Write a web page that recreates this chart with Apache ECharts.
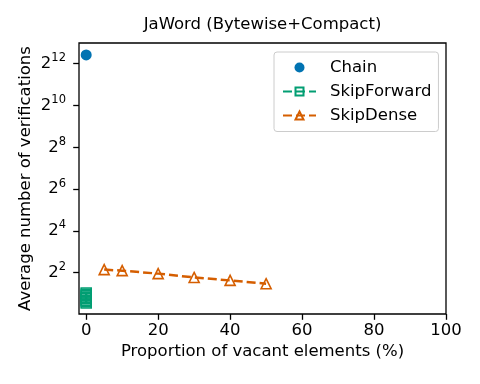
<!DOCTYPE html>
<html>
<head>
<meta charset="utf-8">
<script src="https://cdn.jsdelivr.net/npm/echarts@6/dist/echarts.min.js"></script>
<style>
  html, body { margin: 0; padding: 0; background: #fff; }
  #chart { width: 480px; height: 384px; }
</style>
</head>
<body>
<div id="chart"></div>
<script>
// data
const chainX = [0]
const chainY = [5470]
const skipForwardX = [0, 0, 0, 0, 0, 0, 0, 0]
const skipForwardY = [1.46, 1.52, 1.6, 1.68, 1.76, 1.85, 1.95, 2.04]
const skipDenseX = [5, 10, 20, 30, 40, 50]
const skipDenseY = [4.42, 4.27, 3.87, 3.41, 3.09, 2.77]
const xTicks = [0, 20, 40, 60, 80, 100]
const yTickPowers = [2, 4, 6, 8, 10, 12]

const FONT = 'DejaVu Sans'
const BLUE = '#0173B2'
const GREEN = '#029E73'
const ORANGE = '#D55E00'

const zip = (xs, ys) => xs.map((x, i) => [x, ys[i]])

const chart = echarts.init(document.getElementById('chart'), null, {renderer: 'canvas'})

const hidden = {show: false}
const tickStyle = {show: true, length: 5.8, lineStyle: {color: '#000', width: 1.3}}

const option = {
  animation: false,
  backgroundColor: '#fff',
  title: {
    text: 'JaWord (Bytewise+Compact)',
    left: 262.5,
    top: 16,
    padding: 0,
    textAlign: 'center',
    textStyle: {fontFamily: FONT, fontSize: 16.5, fontWeight: 'normal', color: '#000'}
  },
  legend: {
    orient: 'vertical',
    left: 274,
    top: 52,
    data: ['Chain', 'SkipForward', 'SkipDense'],
    itemWidth: 33,
    itemHeight: 10,
    itemGap: 7,
    padding: [7, 7, 7.5, 8],
    backgroundColor: 'rgba(255,255,255,0.8)',
    borderColor: '#cccccc',
    borderWidth: 1,
    borderRadius: 3,
    textStyle: {fontFamily: FONT, fontSize: 16.5, color: '#000', lineHeight: 15, padding: [0, 0, 0, 9]}
  },
  grid: [
    // data area + frame
    {left: 79, right: 34, top: 43, bottom: 70, show: true, borderColor: '#000', borderWidth: 1.3, backgroundColor: 'transparent'},
    // x ticks only (0..100)
    {left: 86.2, right: 34, top: 43, bottom: 70},
    // y ticks only (2^2..2^12)
    {left: 79, right: 34, top: 63.7, bottom: 111.4}
  ],
  xAxis: [
    {
      gridIndex: 0, type: 'value', min: -2, max: 100,
      name: 'Proportion of vacant elements (%)', nameLocation: 'middle', nameGap: 29,
      nameTextStyle: {fontFamily: FONT, fontSize: 16.5, color: '#000'},
      axisLine: hidden, axisTick: hidden, axisLabel: hidden, splitLine: hidden
    },
    {
      gridIndex: 1, type: 'value', min: xTicks[0], max: xTicks[xTicks.length - 1], interval: xTicks[1] - xTicks[0],
      axisLine: hidden, axisTick: tickStyle, splitLine: hidden,
      axisLabel: {margin: 8, fontFamily: FONT, fontSize: 16.5, color: '#000'}
    },
    {gridIndex: 2, type: 'value', show: false}
  ],
  yAxis: [
    {
      gridIndex: 0, type: 'log', logBase: 2, min: Math.pow(2, 0.02), max: Math.pow(2, 12.99),
      name: 'Average number of verifications', nameLocation: 'middle', nameGap: 45,
      nameTextStyle: {fontFamily: FONT, fontSize: 16.5, color: '#000'},
      axisLine: hidden, axisTick: hidden, axisLabel: hidden, splitLine: hidden
    },
    {gridIndex: 1, type: 'value', show: false},
    {
      gridIndex: 2, type: 'log', logBase: 2,
      min: Math.pow(2, yTickPowers[0]), max: Math.pow(2, yTickPowers[yTickPowers.length - 1]),
      interval: yTickPowers[1] - yTickPowers[0],
      axisLine: hidden, axisTick: tickStyle, splitLine: hidden,
      axisLabel: {
        margin: 13,
        formatter: v => '{b|2}{s|' + Math.round(Math.log2(v)) + '}',
        rich: {
          b: {fontFamily: FONT, fontSize: 16.5, color: '#000'},
          s: {fontFamily: FONT, fontSize: 11.5, lineHeight: 11.5, color: '#000', padding: [0, 0, 11, 0]}
        }
      }
    }
  ],
  series: [
    {
      name: 'Chain',
      type: 'scatter',
      xAxisIndex: 0, yAxisIndex: 0,
      symbol: 'circle',
      symbolSize: 11,
      itemStyle: {color: BLUE, opacity: 1},
      data: zip(chainX, chainY)
    },
    {
      name: 'SkipForward',
      type: 'line',
      xAxisIndex: 0, yAxisIndex: 0,
      symbol: 'rect',
      symbolSize: 10,
      showAllSymbol: true,
      lineStyle: {color: GREEN, width: 2.5, type: [9, 4]},
      itemStyle: {color: 'rgba(255,255,255,0)', borderColor: GREEN, borderWidth: 1.6},
      data: zip(skipForwardX, skipForwardY)
    },
    {
      name: 'SkipDense',
      type: 'line',
      xAxisIndex: 0, yAxisIndex: 0,
      symbol: 'triangle',
      symbolSize: 10,
      showAllSymbol: true,
      lineStyle: {color: ORANGE, width: 2.5, type: [9, 4]},
      itemStyle: {color: 'rgba(255,255,255,0)', borderColor: ORANGE, borderWidth: 1.6},
      data: zip(skipDenseX, skipDenseY)
    }
  ]
}

chart.setOption(option)
</script>
</body>
</html>
